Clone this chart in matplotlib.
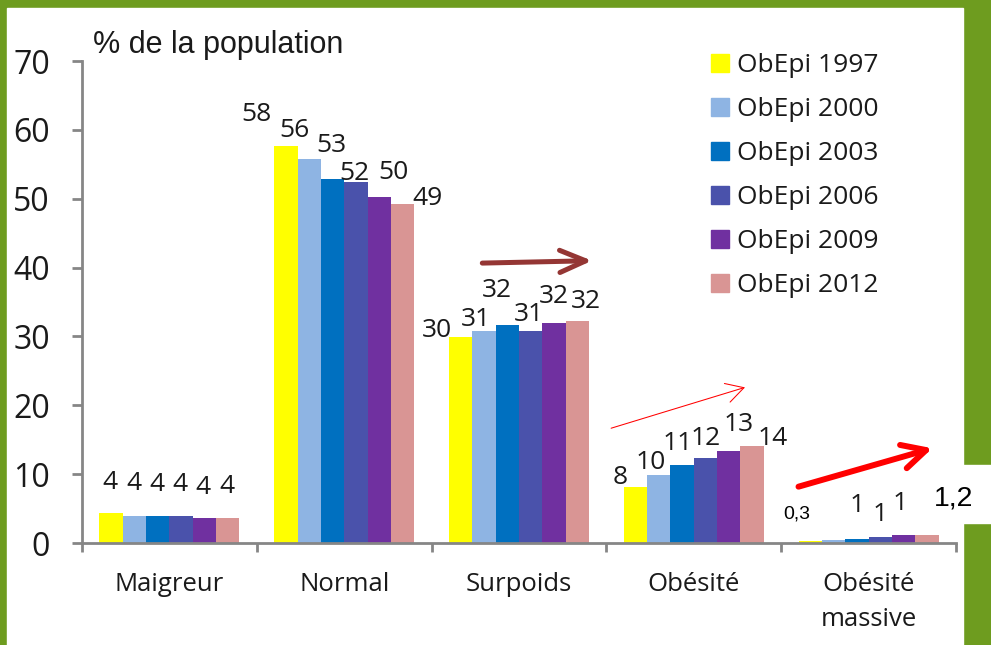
import matplotlib
matplotlib.use('Agg')
import matplotlib.pyplot as plt
from matplotlib.patches import Rectangle, Patch
import numpy as np

# Data
categories = ['Maigreur', 'Normal', 'Surpoids', 'Obésité', 'Obésité\nmassive']
series = ['ObEpi 1997', 'ObEpi 2000', 'ObEpi 2003', 'ObEpi 2006', 'ObEpi 2009', 'ObEpi 2012']
v1997 = [4.3, 57.7, 29.9, 8.2, 0.3]
v2000 = [3.9, 55.8, 30.8, 9.9, 0.4]
v2003 = [3.9, 52.9, 31.6, 11.3, 0.6]
v2006 = [3.9, 52.4, 30.8, 12.4, 0.8]
v2009 = [3.7, 50.2, 32.0, 13.4, 1.1]
v2012 = [3.6, 49.3, 32.3, 14.1, 1.2]
values = [v1997, v2000, v2003, v2006, v2009, v2012]
massive_labels = ['0,3', '', '1', '1', '1', '1,2']

colors = ['#FFFF00', '#8EB4E3', '#0070C0', '#4A52AB', '#7030A0', '#D99594']
green = '#6E9C1F'
txt = '#1a1a1a'
grey = '#868686'

# label offsets in pixels (dx, dy) for each category, per series
label_offsets = [
    [(-1, 24), (-1, 26), (-1, 25), (-1, 25), (-1, 24), (-1, 25)],
    [(-29, 25), (-15, 22), (-1, 27), (-1, 2), (14, 18), (25, -1)],
    [(-24, 0), (-8, 5), (-10, 28), (-2, 10), (0, 20), (9, 13)],
    [(-15, 3), (-8, 6), (-4, 15), (0, 13), (10, 20), (21, 1)],
    [(-14, 22), (0, 0), (0, 27), (0, 16), (-3, 25), (27, 29)],
]

fig = plt.figure(figsize=(9.91, 6.45), dpi=100)
fig.patch.set_facecolor(green)
W, H = 991, 645
fig.add_artist(Rectangle((7 / W, 0), (963 - 7) / W, (645 - 8) / H,
                         transform=fig.transFigure, color='white', zorder=-10))
fig.add_artist(Rectangle((930 / W, (645 - 523) / H), 61 / W, 58 / H,
                         transform=fig.transFigure, color='white', zorder=-10))

ax = fig.add_axes([82 / W, 102 / H, 874 / W, 482 / H])
ax.set_facecolor('none')

x = np.arange(len(categories))
n = len(series)
w = 0.8 / n
for j in range(n):
    xs = x + (j - (n - 1) / 2) * w
    ax.bar(xs, values[j], width=w, color=colors[j], label=series[j], zorder=2)
    for i in range(len(categories)):
        dx, dy = label_offsets[i][j]
        if i == 4:
            lab = massive_labels[j]
            if lab == '':
                continue
            if j == 0:
                fp = dict(family='Liberation Sans', fontsize=14, color='black')
            elif j == n - 1:
                fp = dict(family='Liberation Sans', fontsize=20.5, color='black')
            else:
                fp = dict(family='Open Sans', fontsize=19, color=txt)
        else:
            lab = f"{values[j][i]:.0f}"
            fp = dict(family='Open Sans', fontsize=19, color=txt)
        ax.annotate(lab, (xs[i], values[j][i]), xytext=(dx, dy),
                    textcoords='offset pixels', ha='center', va='baseline',
                    annotation_clip=False, **fp)

ax.set_xlim(-0.5, len(categories) - 0.5)
ax.set_ylim(0, 70)
ax.set_yticks(range(0, 71, 10))
ax.set_xticks(x)
ax.set_xticklabels(categories, family='Open Sans', fontsize=18.5, color=txt)
for t in ax.get_xticklabels():
    t.set_linespacing(1.5)
ax.set_xticks(np.arange(-0.5, len(categories), 1), minor=True)
ax.tick_params(axis='x', which='major', length=0, pad=21)
ax.tick_params(axis='x', which='minor', length=6.5, width=2, color=grey)
ax.tick_params(axis='y', length=7, width=2, color=grey, pad=16,
               labelsize=23, labelcolor=txt)
for t in ax.get_yticklabels():
    t.set_family('Open Sans')
for s in ['top', 'right']:
    ax.spines[s].set_visible(False)
for s in ['left', 'bottom']:
    ax.spines[s].set_color(grey)
    ax.spines[s].set_linewidth(2)

fig.text(93 / W, 1 - 53 / H, '% de la population', family='Liberation Sans',
         fontsize=22, color=txt, va='baseline', ha='left')

handles = [Patch(color=c) for c in colors]
fig.legend(handles, series, loc='upper left', bbox_to_anchor=(711 / W, 1 - 53 / H),
           frameon=False, borderpad=0, borderaxespad=0, handlelength=0.68,
           handleheight=0.68, handletextpad=0.3, labelspacing=0.72,
           prop=dict(family='Open Sans', size=19), labelcolor=txt)

# trend arrows
ax.annotate('', xy=(2.418, 41.0), xytext=(1.79, 40.65),
            arrowprops=dict(arrowstyle='->,head_length=18.7,head_width=8',
                            mutation_scale=1, color='#943634', lw=3.6,
                            shrinkA=0, shrinkB=0), annotation_clip=False)
ax.annotate('', xy=(3.293, 22.6), xytext=(2.527, 16.67),
            arrowprops=dict(arrowstyle='->,head_length=12.6,head_width=7',
                            mutation_scale=1, color='#FF0000', lw=0.75,
                            shrinkA=0, shrinkB=0), annotation_clip=False)
ax.annotate('', xy=(4.365, 13.76), xytext=(3.599, 8.18),
            arrowprops=dict(arrowstyle='->,head_length=17,head_width=8.7',
                            mutation_scale=1, color='#FF0000', lw=4.3,
                            shrinkA=0, shrinkB=0), annotation_clip=False)

fig.savefig('out.png', dpi=100, facecolor=fig.get_facecolor())
